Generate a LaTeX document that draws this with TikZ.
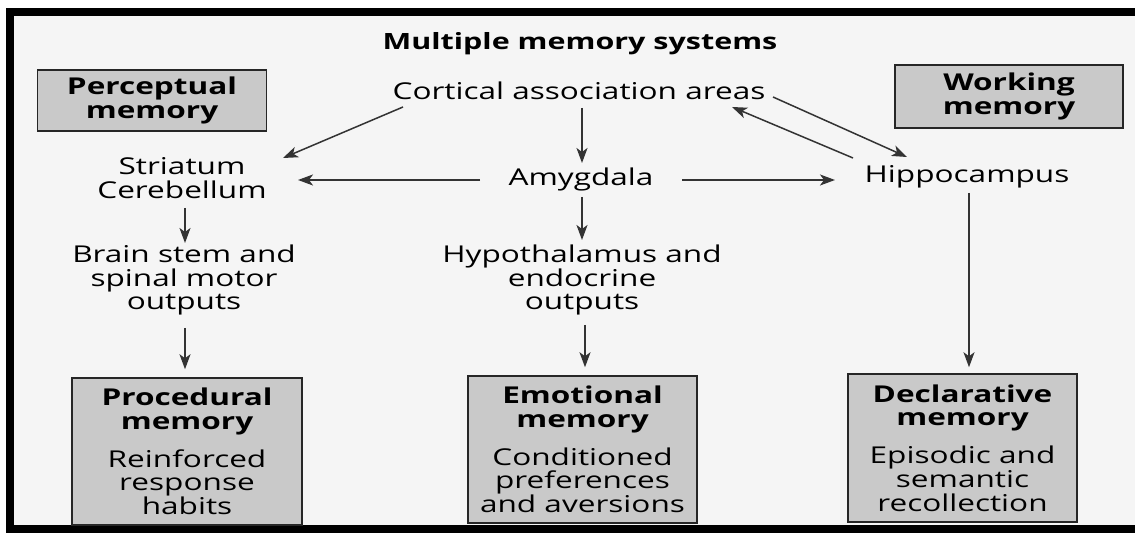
\documentclass[tikz,border=0pt]{standalone}
\usepackage{fontspec}
\setmainfont{Open Sans}[FakeStretch=1.36]
\usetikzlibrary{arrows.meta,calc}

\begin{document}
\begin{tikzpicture}[x=0.5pt, y=-0.5pt]
\tikzset{every node/.style={font=\fontsize{11.6}{11.9}\selectfont, align=center, inner sep=0pt}}
\tikzset{memory box/.style={draw=black!85, line width=0.75pt, fill=black!21}}
\tikzset{link/.style={draw=black!80, line width=0.75pt, -{Stealth[length=7.5pt,width=5.5pt,inset=2pt]}}}
\useasboundingbox (0,0) rectangle (1135,533);
\fill[black!4] (10,12) rectangle (1135,529);
\draw[line width=4pt] (1140,12) -| (10,529) -- (1140,529);
\node[font=\fontsize{11.2}{11.8}\selectfont\bfseries] (title) at (580,44) {Multiple memory systems};
\node (cort) at (579,91) {Cortical association areas};
\node[memory box, minimum width=114.5pt, minimum height=30.5pt] (perc) at (152,100.5)
  {\textbf{Perceptual}\\\textbf{memory}};
\node[memory box, minimum width=114pt, minimum height=31.5pt] (work) at (1009,96.5)
  {\textbf{Working}\\\textbf{memory}};
\node (stri) at (182,178) {Striatum\\Cerebellum};
\node (amyg) at (581,179) {Amygdala};
\node (hipp) at (967,177) {Hippocampus};
\node (brain) at (184,280) {Brain stem and\\spinal motor\\outputs};
\node (hypo) at (582,280) {Hypothalamus and\\endocrine\\outputs};
\node[memory box, minimum width=115pt, minimum height=73.5pt] (proc) at (187,451.5)
  {\textbf{Procedural}\\\textbf{memory}\\[7pt]Reinforced\\response\\habits};
\node[memory box, minimum width=114.5pt, minimum height=73.5pt] (emot) at (582.5,449.5)
  {\textbf{Emotional}\\\textbf{memory}\\[7pt]Conditioned\\preferences\\and aversions};
\node[memory box, minimum width=114.5pt, minimum height=74pt] (decl) at (962.5,448)
  {\textbf{Declarative}\\\textbf{memory}\\[7pt]Episodic and\\semantic\\recollection};
\draw[link] ($(cort)+(-176,16)$) -- ($(stri)+(101,-20)$);
\draw[link] ($(cort)+(3,17)$) -- ($(amyg)+(1,-16)$);
\draw[link] ($(amyg)+(-101,1)$) -- ($(stri)+(116,2)$);
\draw[link] ($(amyg)+(101,1)$) -- ($(hipp)+(-132,3)$);
\draw[link] ($(cort)+(194,6)$) -- ($(hipp)+(-60,-20)$);
\draw[link] ($(hipp)+(-114,-19)$) -- ($(cort)+(153,16)$);
\draw[link] ($(stri)+(3,30)$) -- ($(brain)+(1,-37)$);
\draw[link] ($(brain)+(1,48)$) -- ($(proc.north)+(-2,-8)$);
\draw[link] ($(amyg)+(1,18)$) -- ($(hypo)+(0,-40)$);
\draw[link] ($(hypo)+(3,45)$) -- ($(emot.north)+(2.5,-8)$);
\draw[link] ($(hipp)+(2,16)$) -- ($(decl.north)+(6.5,-6)$);
\end{tikzpicture}
\end{document}
